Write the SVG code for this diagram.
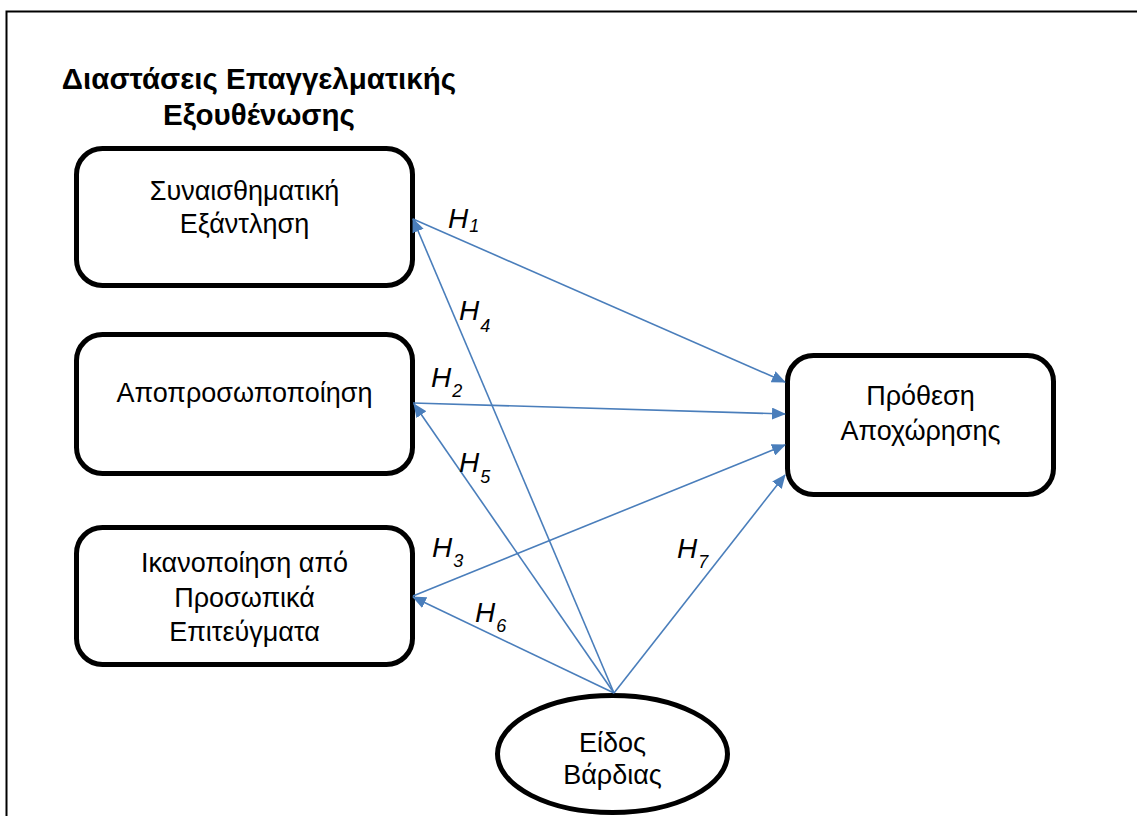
<svg xmlns="http://www.w3.org/2000/svg" width="1137" height="816" viewBox="0 0 1137 816">
<style>
.frame{fill:none;stroke:#000;stroke-width:2}
.box{fill:#fff;stroke:#000;stroke-width:5}
.t{font-family:"Liberation Sans",Arial,sans-serif;font-size:27px;fill:#000;text-anchor:middle}
.title{font-family:"Liberation Sans",Arial,sans-serif;font-size:29.5px;font-weight:bold;fill:#000;text-anchor:middle}
.c{stroke:#4A7EBB;stroke-width:1.6;fill:none}
.h{font-family:"Liberation Sans",Arial,sans-serif;font-size:28px;font-style:italic;fill:#000}
.s{font-size:18px}
</style>
<defs>
<marker id="ah" markerUnits="userSpaceOnUse" markerWidth="14" markerHeight="12" refX="13" refY="6" orient="auto">
<path d="M0,0 L14,6 L0,12 z" fill="#4A7EBB"/>
</marker>
</defs>
<rect width="1137" height="816" fill="#fff"/>
<rect class="frame" x="6.5" y="11.5" width="1140" height="820"/>
<text class="title" x="259" y="89">Διαστάσεις Επαγγελματικής</text>
<text class="title" x="259" y="125">Εξουθένωσης</text>
<g id="n1">
<rect class="box" x="76.5" y="148.5" width="336" height="137" rx="26"/>
<text class="t" x="244.5" y="200">Συναισθηματική</text>
<text class="t" x="244.5" y="233">Εξάντληση</text>
</g>
<g id="n2">
<rect class="box" x="76.5" y="334.5" width="336" height="139" rx="26"/>
<text class="t" x="244.5" y="402">Αποπροσωποποίηση</text>
</g>
<g id="n3">
<rect class="box" x="76.5" y="527.5" width="336" height="137" rx="26"/>
<text class="t" x="244.5" y="572">Ικανοποίηση από</text>
<text class="t" x="244.5" y="607">Προσωπικά</text>
<text class="t" x="244.5" y="641">Επιτεύγματα</text>
</g>
<g id="n4">
<rect class="box" x="787.5" y="355.5" width="266" height="139" rx="26"/>
<text class="t" x="920.5" y="405">Πρόθεση</text>
<text class="t" x="920.5" y="440">Αποχώρησης</text>
</g>
<g id="n5">
<ellipse class="box" cx="612.5" cy="754" rx="115" ry="58.5"/>
<text class="t" x="612.5" y="752">Είδος</text>
<text class="t" x="612.5" y="784">Βάρδιας</text>
</g>
<g id="connectors">
<line class="c" x1="413" y1="219" x2="785" y2="382" marker-end="url(#ah)"/>
<line class="c" x1="413" y1="403" x2="785" y2="414" marker-end="url(#ah)"/>
<line class="c" x1="413" y1="596" x2="785" y2="445" marker-end="url(#ah)"/>
<line class="c" x1="614" y1="693" x2="785" y2="475" marker-end="url(#ah)"/>
<line class="c" x1="614" y1="693" x2="413" y2="219" marker-end="url(#ah)"/>
<line class="c" x1="614" y1="693" x2="414" y2="404" marker-end="url(#ah)"/>
<line class="c" x1="614" y1="693" x2="413" y2="597" marker-end="url(#ah)"/>
</g>
<g id="labels">
<text class="h" x="448" y="228">H<tspan class="s" dx="1" dy="4">1</tspan></text>
<text class="h" x="459" y="320">H<tspan class="s" dx="1" dy="12">4</tspan></text>
<text class="h" x="431" y="387">H<tspan class="s" dx="1" dy="10">2</tspan></text>
<text class="h" x="459" y="472">H<tspan class="s" dx="1" dy="11">5</tspan></text>
<text class="h" x="432" y="557">H<tspan class="s" dx="1" dy="10">3</tspan></text>
<text class="h" x="475" y="622">H<tspan class="s" dx="1" dy="10">6</tspan></text>
<text class="h" x="677" y="558">H<tspan class="s" dx="1" dy="10">7</tspan></text>
</g>
</svg>
